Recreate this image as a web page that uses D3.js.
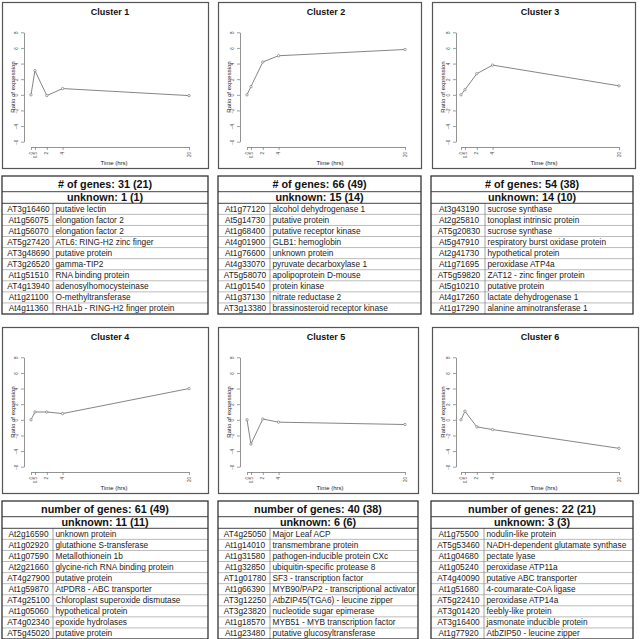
<!DOCTYPE html>
<html><head><meta charset="utf-8">
<script src="https://cdn.jsdelivr.net/npm/d3@7"></script>
<style>body{margin:0;background:#fff}svg{display:block}text{font-family:"Liberation Sans",Arial,sans-serif}</style>
</head><body><svg id="c" width="640" height="639"></svg>
<script>
// ---- data ----
const times = [0, 0.5, 2, 4, 20];
const timeLabels = ["0", "0.5", "2", "4", "20"];
const yTicks = [8, 6, 4, 2, 0, -2, -4, -6];
const clusterTitles = ["Cluster 1", "Cluster 2", "Cluster 3", "Cluster 4", "Cluster 5", "Cluster 6"];
const cluster1 = [0, 3.1, -0.1, 0.8, -0.1];
const cluster2 = [0, 1.05, 4.2, 5.0, 5.8];
const cluster3 = [0, 0.65, 2.7, 3.8, 1.15];
const cluster4 = [0, 1.0, 1.0, 0.8, 4.0];
const cluster5 = [0, -3.1, 0.1, -0.3, -0.6];
const cluster6 = [0, 1.1, -0.9, -1.25, -3.65];
const geneHeaders = ["# of genes: 31 (21)", "# of genes: 66 (49)", "# of genes: 54 (38)",
  "number of genes: 61 (49)", "number of genes: 40 (38)", "number of genes: 22 (21)"];
const unknownHeaders = ["unknown: 1 (1)", "unknown: 15 (14)", "unknown: 14 (10)",
  "unknown: 11 (11)", "unknown: 6 (6)", "unknown: 3 (3)"];
const genes1 = [["AT3g16460","putative lectin"],["At1g56075","elongation factor 2"],["At1g56070","elongation factor 2"],
  ["AT5g27420","ATL6: RING-H2 zinc finger"],["AT3g48690","putative protein"],["AT3g26520","gamma-TIP2"],
  ["At1g51510","RNA binding protein"],["AT4g13940","adenosylhomocysteinase"],["At1g21100","O-methyltransferase"],
  ["At4g11360","RHA1b - RING-H2 finger protein"]];
const genes2 = [["At1g77120","alcohol dehydrogenase 1"],["At5g14730","putative protein"],["At1g68400","putative receptor kinase"],
  ["At4g01900","GLB1: hemoglobin"],["At1g76600","unknown protein"],["At4g33070","pyruvate decarboxylase 1"],
  ["AT5g58070","apolipoprotein D-mouse"],["At1g01540","protein kinase"],["At1g37130","nitrate reductase 2"],
  ["AT3g13380","brassinosteroid receptor kinase"]];
const genes3 = [["At3g43190","sucrose synthase"],["At2g25810","tonoplast intrinsic protein"],["AT5g20830","sucrose synthase"],
  ["At5g47910","respiratory burst oxidase protein"],["At2g41730","hypothetical protein"],["At1g71695","peroxidase  ATP4a"],
  ["AT5g59820","ZAT12 - zinc finger protein"],["At5g10210","putative protein"],["At4g17260","lactate dehydrogenase 1"],
  ["At1g17290","alanine aminotransferase 1"]];
const genes4 = [["At2g16590","unknown protein"],["At1g02920","glutathione S-transferase"],["At1g07590","Metallothionein 1b"],
  ["At2g21660","glycine-rich RNA binding protein"],["AT4g27900","putative protein"],["At1g59870","AtPDR8 - ABC transporter"],
  ["AT4g25100","Chloroplast superoxide dismutase"],["At1g05060","hypothetical protein"],["AT4g02340","epoxide hydrolases"],
  ["AT5g45020","putative protein"]];
const genes5 = [["AT4g25050","Major Leaf ACP"],["At1g14010","transmembrane protein"],["At1g31580","pathogen-inducible protein CXc"],
  ["At1g32850","ubiquitin-specific protease 8"],["AT1g01780","SF3 - transcription factor"],["At1g66390","MYB90/PAP2 - transcriptional activator"],
  ["AT3g12250","AtbZIP45(TGA6) - leucine zipper"],["AT3g23820","nucleotide sugar epimerase"],["At1g18570","MYB51 - MYB transcription factor"],
  ["At1g23480","putative glucosyltransferase"]];
const genes6 = [["At1g75500","nodulin-like protein"],["AT5g53460","NADH-dependent glutamate synthase"],["At1g04680","pectate lyase"],
  ["At1g05240","peroxidase ATP11a"],["AT4g40090","putative ABC transporter"],["At1g51680","4-coumarate-CoA ligase"],
  ["AT5g22410","peroxidase ATP14a"],["AT3g01420","feebly-like protein"],["AT3g16400","jasmonate inducible protein"],
  ["At1g77920","AtbZIP50 - leucine zipper"]];

const series = [cluster1, cluster2, cluster3, cluster4, cluster5, cluster6];
const geneTables = [genes1, genes2, genes3, genes4, genes5, genes6];

// ---- layout ----
const boxL = [2, 218, 432, 2, 218, 432];
const boxR = [208, 421, 635, 208, 418, 638];
const tabL = [2, 218, 431, 2, 218, 431];
const tabD = [53, 270, 485, 53, 270, 484];
const tabR = [208, 421, 633, 208, 418, 633];
const axOff = [22, 22, 24, 22, 22, 24];

const svg = d3.select("#c");
svg.append("rect").attr("width", 640).attr("height", 639).attr("fill", "#fff");

for (let i = 0; i < 6; i++) {
  const row = i < 3 ? 0 : 1;
  const oy = row * 325;
  const L = boxL[i];
  const g = svg.append("g");
  // plot box
  g.append("rect").attr("x", L + 0.5).attr("y", oy + 2 + 0.5).attr("width", boxR[i] - L).attr("height", 166)
    .attr("fill", "#fff").attr("stroke", "#555").attr("stroke-width", 1.2);
  const x = d3.scaleLinear().domain([0, 20]).range([L + 29, L + 187]);
  const y = d3.scaleLinear().domain([-6, 8]).range([oy + 141.7, oy + 32.3]);
  const axX = L + axOff[i];
  // y axis
  const ya = g.append("g").attr("transform", `translate(${axX},0)`)
    .call(d3.axisLeft(y).tickValues(yTicks).tickSize(3).tickSizeOuter(0).tickPadding(3));
  ya.select(".domain").attr("stroke", "#777").attr("stroke-width", 0.8);
  ya.selectAll(".tick line").attr("stroke", "#777").attr("stroke-width", 0.7);
  ya.selectAll(".tick text").attr("font-size", 4.5).attr("fill", "#444")
    .attr("text-anchor", "middle").attr("x", -7).attr("dy", 0)
    .attr("transform", function () { const t = d3.select(this.parentNode).attr("transform"); return "rotate(-90,-7,0)"; })
    .attr("y", 0).attr("dominant-baseline", "middle");
  // x axis
  const xa = g.append("g").attr("transform", `translate(0,${oy + 147})`)
    .call(d3.axisBottom(x).tickValues(times).tickFormat((d, k) => timeLabels[k]).tickSize(3).tickSizeOuter(0));
  xa.select(".domain").attr("stroke", "#777").attr("stroke-width", 0.8);
  xa.selectAll(".tick line").attr("stroke", "#777").attr("stroke-width", 0.7);
  xa.selectAll(".tick text").attr("font-size", 4.5).attr("fill", "#444")
    .attr("text-anchor", "end").attr("dominant-baseline", "middle").attr("x", 0).attr("y", 5).attr("dy", 0)
    .attr("transform", "rotate(-90,0,5)");
  ya.attr("font-family", null); xa.attr("font-family", null);
  // line
  const pts = times.map((t, k) => [t, series[i][k]]);
  g.append("path").datum(pts).attr("fill", "none").attr("stroke", "#777").attr("stroke-width", 0.9)
    .attr("d", d3.line().x(d => x(d[0])).y(d => y(d[1])));
  g.selectAll("circle.p").data(pts).enter().append("circle")
    .attr("cx", d => x(d[0])).attr("cy", d => y(d[1])).attr("r", 1.2)
    .attr("fill", "#fff").attr("stroke", "#666").attr("stroke-width", 0.6);
  // titles
  const cx = L + 108;
  g.append("text").attr("x", cx).attr("y", oy + 15).attr("text-anchor", "middle")
    .attr("font-size", 9).attr("font-weight", "bold").attr("fill", "#111").text(clusterTitles[i]);
  g.append("text").attr("x", cx + 4).attr("y", oy + 165).attr("text-anchor", "middle")
    .attr("font-size", 6).attr("fill", "#222").text("Time (hrs)");
  g.append("text").attr("transform", `translate(${L + 13},${oy + 87}) rotate(-90)`).attr("text-anchor", "middle")
    .attr("font-size", 6).attr("fill", "#222").text("Ratio of expression");

  // table
  const tL = tabL[i], tR = tabR[i], tD = tabD[i];
  const t0 = oy + 176, h1 = oy + 191.7, h2 = oy + 203.3, rowH = 11.07;
  const tb = svg.append("g");
  const rows = geneTables[i];
  const rowY = d3.range(rows.length + 1).map(k => h2 + k * rowH);
  // row separators
  rowY.slice(1, -1).forEach(yy => tb.append("line").attr("x1", tL).attr("x2", tR).attr("y1", yy).attr("y2", yy)
    .attr("stroke", "#aaa").attr("stroke-width", 0.8));
  tb.append("line").attr("x1", tD).attr("x2", tD).attr("y1", h2).attr("y2", rowY[rows.length])
    .attr("stroke", "#888").attr("stroke-width", 0.8);
  [h1, h2].forEach(yy => tb.append("line").attr("x1", tL).attr("x2", tR).attr("y1", yy).attr("y2", yy)
    .attr("stroke", "#444").attr("stroke-width", 1));
  tb.append("rect").attr("x", tL).attr("y", t0).attr("width", tR - tL).attr("height", rowY[rows.length] - t0)
    .attr("fill", "none").attr("stroke", "#333").attr("stroke-width", 1.3);
  tb.append("text").attr("x", (tL + tR) / 2).attr("y", (t0 + h1) / 2 + 3.8).attr("text-anchor", "middle")
    .attr("font-size", 10.8).attr("font-weight", "bold").attr("fill", "#111").text(geneHeaders[i]);
  tb.append("text").attr("x", (tL + tR) / 2).attr("y", (h1 + h2) / 2 + 3.8).attr("text-anchor", "middle")
    .attr("font-size", 10.8).attr("font-weight", "bold").attr("fill", "#111").text(unknownHeaders[i]);
  rows.forEach((r, k) => {
    const by = rowY[k] + rowH / 2 + 3;
    tb.append("text").attr("x", (tL + tD) / 2 + 1).attr("y", by).attr("text-anchor", "middle")
      .attr("font-size", 8.3).attr("fill", "#222").text(r[0]);
    tb.append("text").attr("x", tD + 2.5).attr("y", by)
      .attr("font-size", 8.3).attr("fill", "#222").text(r[1]);
  });
}
</script></body></html>
